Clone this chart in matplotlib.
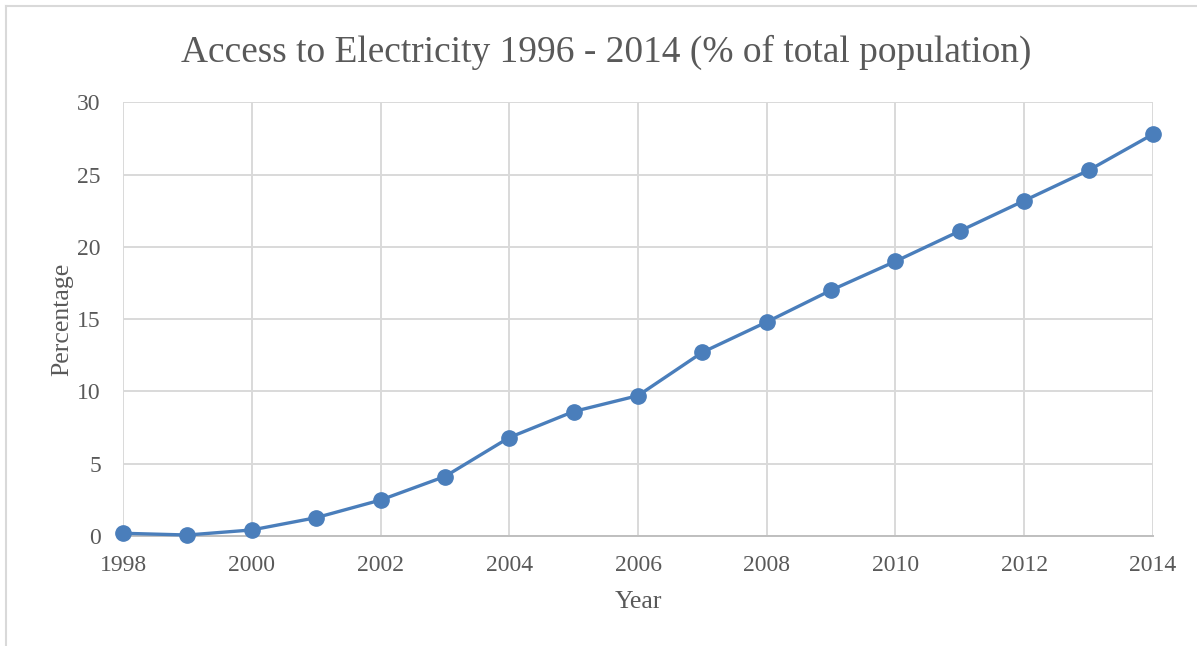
import matplotlib.pyplot as plt
from matplotlib.lines import Line2D

# data
years = [1998, 1999, 2000, 2001, 2002, 2003, 2004, 2005, 2006,
         2007, 2008, 2009, 2010, 2011, 2012, 2013, 2014]
access = [0.17, 0.05, 0.4, 1.25, 2.47, 4.1, 6.8, 8.6, 9.7,
          12.7, 14.8, 17.0, 19.0, 21.1, 23.2, 25.3, 27.8]
x_ticks = [1998, 2000, 2002, 2004, 2006, 2008, 2010, 2012, 2014]
y_ticks = [0, 5, 10, 15, 20, 25, 30]

plt.rcParams['font.family'] = ['Liberation Serif', 'DejaVu Serif']
text_col = '#595959'
grid_col = '#d9d9d9'

fig = plt.figure(figsize=(11.97, 6.46), dpi=100)
ax = fig.add_axes([0.1028, 0.1707, 0.8604, 0.6707])

ax.plot(years, access, color='#4a7ebb', lw=2.4, marker='o', markersize=11,
        clip_on=False, zorder=3)

ax.set_xlim(1998, 2014)
ax.set_ylim(0, 30)
ax.set_xticks(x_ticks)
ax.set_yticks(y_ticks)
ax.grid(True, color=grid_col, lw=1.4)
ax.set_axisbelow(True)

for side in ['top', 'right', 'left']:
    ax.spines[side].set_visible(False)
ax.spines['bottom'].set_color('#bfbfbf')
ax.spines['bottom'].set_linewidth(1.4)

ax.tick_params(length=0, labelsize=17, labelcolor=text_col)
ax.tick_params(axis='x', pad=14)
ax.tick_params(axis='y', pad=16)

ax.set_xlabel('Year', fontsize=18.5, color=text_col, labelpad=11)
ax.set_ylabel('Percentage', fontsize=18.5, color=text_col, labelpad=3)

fig.text(0.5065, 0.919, 'Access to Electricity 1996 - 2014 (% of total population)',
         ha='center', va='center', fontsize=26.9, color=text_col)

# outer chart frame (only top and left edges visible in the crop)
fig.add_artist(Line2D([0.005, 1.0], [0.991, 0.991], color='#d9d9d9', lw=1.5,
                      transform=fig.transFigure))
fig.add_artist(Line2D([0.005, 0.005], [0.0, 0.991], color='#d9d9d9', lw=1.5,
                      transform=fig.transFigure))

fig.savefig('out.png', dpi=100)
